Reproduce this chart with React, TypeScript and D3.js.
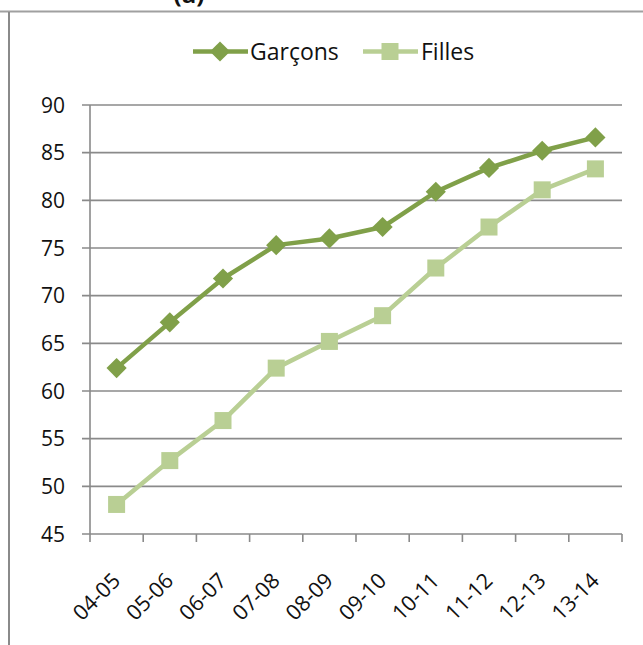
import React, { useRef, useEffect } from "react";
import * as d3 from "d3";

const categories = ["04-05", "05-06", "06-07", "07-08", "08-09", "09-10", "10-11", "11-12", "12-13", "13-14"];
const garcons = [62.4, 67.2, 71.8, 75.3, 76.0, 77.2, 80.9, 83.4, 85.2, 86.6];
const filles = [48.1, 52.7, 56.9, 62.4, 65.2, 67.9, 72.9, 77.2, 81.1, 83.3];
const yTicks = [45, 50, 55, 60, 65, 70, 75, 80, 85, 90];

const DARK = "#80a049";
const LIGHT = "#b9cf94";
const GRID = "#8a8a8a";
const FONT = "'Open Sans', 'Noto Sans', sans-serif";

const App: React.FC = () => {
  const svgRef = useRef<SVGSVGElement | null>(null);

  useEffect(() => {
    if (!svgRef.current) return;
    const svg = d3.select(svgRef.current);
    svg.selectAll("*").remove();

    const width = 643;
    const height = 645;
    const margin = { top: 105, right: 21, bottom: 111, left: 90 };
    const innerWidth = width - margin.left - margin.right;
    const innerHeight = height - margin.top - margin.bottom;

    svg.attr("width", width).attr("height", height);

    // page frame and the title cut off above
    svg.append("text")
      .attr("x", 189)
      .attr("y", 3)
      .attr("text-anchor", "middle")
      .attr("font-family", FONT)
      .attr("font-weight", "bold")
      .attr("font-size", 24)
      .attr("fill", "#111")
      .text("(a)");
    svg.append("line")
      .attr("x1", 0).attr("x2", width)
      .attr("y1", 11.5).attr("y2", 11.5)
      .attr("stroke", "#a0a0a0").attr("stroke-width", 2);
    svg.append("line")
      .attr("x1", 9).attr("x2", 9)
      .attr("y1", 12).attr("y2", height)
      .attr("stroke", "#8a8a8a").attr("stroke-width", 2);

    const g = svg.append("g").attr("transform", `translate(${margin.left},${margin.top})`);

    const x = d3.scaleBand().domain(categories).range([0, innerWidth]);
    const y = d3.scaleLinear().domain([45, 90]).range([innerHeight, 0]);

    // gridlines
    g.append("g")
      .selectAll("line")
      .data(yTicks)
      .join("line")
      .attr("x1", -8)
      .attr("x2", innerWidth)
      .attr("y1", (d) => y(d))
      .attr("y2", (d) => y(d))
      .attr("stroke", GRID)
      .attr("stroke-width", 1.6);

    // y axis line
    g.append("line")
      .attr("x1", 0).attr("x2", 0)
      .attr("y1", 0).attr("y2", innerHeight)
      .attr("stroke", GRID).attr("stroke-width", 1.6);

    // x tick marks
    const tickPos = categories.map((c) => x(c) || 0).concat([innerWidth]);
    g.append("g")
      .selectAll("line")
      .data(tickPos)
      .join("line")
      .attr("x1", (d) => d)
      .attr("x2", (d) => d)
      .attr("y1", innerHeight)
      .attr("y2", innerHeight + 8)
      .attr("stroke", GRID)
      .attr("stroke-width", 1.6);

    // y labels
    g.append("g")
      .selectAll("text")
      .data(yTicks)
      .join("text")
      .attr("x", -25)
      .attr("y", (d) => y(d))
      .attr("dy", "0.36em")
      .attr("text-anchor", "end")
      .attr("font-family", FONT)
      .attr("font-size", 21)
      .attr("fill", "#111")
      .text((d) => d);

    // x labels
    g.append("g")
      .selectAll("text")
      .data(categories)
      .join("text")
      .attr("transform", (d) => {
        const cx = (x(d) || 0) + x.bandwidth() / 2 + 5;
        return `translate(${cx},${innerHeight + 48}) rotate(-45)`;
      })
      .attr("text-anchor", "end")
      .attr("font-family", FONT)
      .attr("font-size", 21.5)
      .attr("fill", "#111")
      .text((d) => d);

    const cx = (i: number) => (x(categories[i]) || 0) + x.bandwidth() / 2;
    const line = d3.line<number>().x((_, i) => cx(i)).y((d) => y(d));

    // Filles
    g.append("path")
      .datum(filles)
      .attr("d", line)
      .attr("fill", "none")
      .attr("stroke", LIGHT)
      .attr("stroke-width", 4.5)
      .attr("stroke-linejoin", "round");
    g.append("g")
      .selectAll("rect")
      .data(filles)
      .join("rect")
      .attr("x", (_, i) => cx(i) - 8.5)
      .attr("y", (d) => y(d) - 8.5)
      .attr("width", 17)
      .attr("height", 17)
      .attr("fill", LIGHT);

    // Garçons
    const diamond = d3.symbol().type(d3.symbolDiamond2).size(260);
    g.append("path")
      .datum(garcons)
      .attr("d", line)
      .attr("fill", "none")
      .attr("stroke", DARK)
      .attr("stroke-width", 4.5)
      .attr("stroke-linejoin", "round");
    g.append("g")
      .selectAll("path")
      .data(garcons)
      .join("path")
      .attr("d", diamond)
      .attr("transform", (d, i) => `translate(${cx(i)},${y(d)})`)
      .attr("fill", DARK);

    // legend
    const legend = svg.append("g").attr("transform", "translate(0,51.5)");
    legend.append("line")
      .attr("x1", 193).attr("x2", 248).attr("y1", 0).attr("y2", 0)
      .attr("stroke", DARK).attr("stroke-width", 4.5);
    legend.append("path")
      .attr("d", diamond)
      .attr("transform", "translate(220,0)")
      .attr("fill", DARK);
    legend.append("text")
      .attr("x", 250).attr("y", 0).attr("dy", "0.36em")
      .attr("font-family", FONT).attr("font-size", 23).attr("fill", "#111")
      .text("Garçons");
    legend.append("line")
      .attr("x1", 363).attr("x2", 418).attr("y1", 0).attr("y2", 0)
      .attr("stroke", LIGHT).attr("stroke-width", 4.5);
    legend.append("rect")
      .attr("x", 390 - 8.5).attr("y", -8.5).attr("width", 17).attr("height", 17)
      .attr("fill", LIGHT);
    legend.append("text")
      .attr("x", 421).attr("y", 0).attr("dy", "0.36em")
      .attr("font-family", FONT).attr("font-size", 23).attr("fill", "#111")
      .text("Filles");
  }, []);

  return (
    <div style={{ position: "absolute", left: 0, top: 0, background: "#fff" }}>
      <svg ref={svgRef} style={{ display: "block" }} />
    </div>
  );
};

export default App;
